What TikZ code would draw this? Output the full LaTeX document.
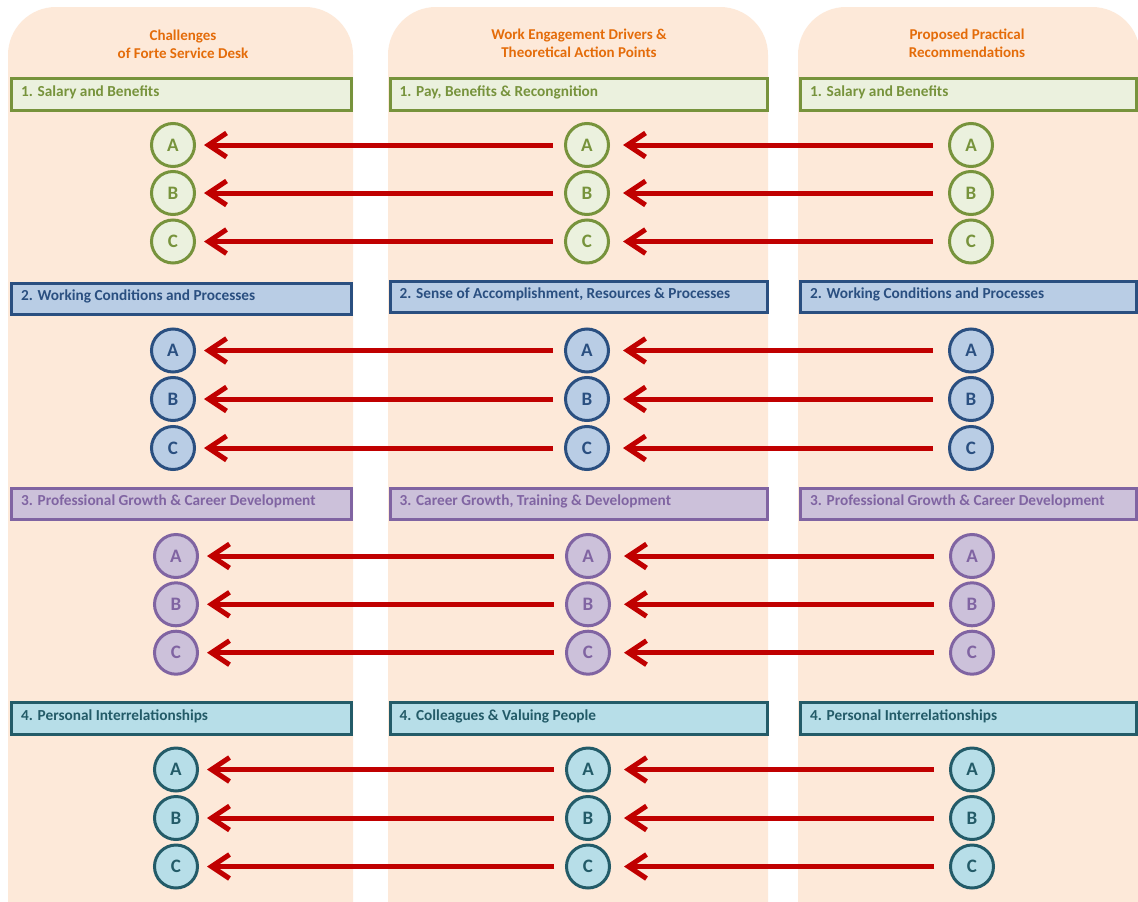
\documentclass[tikz,border=0pt]{standalone}
\usepackage{fontspec}
\setmainfont{Carlito}
\usetikzlibrary{arrows.meta,calc}

\definecolor{peach}{HTML}{FDE9D9}
\definecolor{titleorange}{HTML}{E46C0A}
\definecolor{grnline}{HTML}{77933C}
\definecolor{grnfill}{HTML}{EBF1DE}
\definecolor{bluline}{HTML}{2A4F80}
\definecolor{blufill}{HTML}{B9CDE5}
\definecolor{purline}{HTML}{8064A2}
\definecolor{purfill}{HTML}{CCC1DA}
\definecolor{tealline}{HTML}{235B68}
\definecolor{tealfill}{HTML}{B7DEE8}
\definecolor{arrred}{HTML}{C00000}

\tikzset{
  colbg/.style={fill=peach, rounded corners=48pt},
  coltitle/.style={text=titleorange, font=\bfseries\fontsize{15}{18}\selectfont,
    align=center, inner sep=0pt},
  hdrbox/.style={draw=#1line, fill=#1fill, line width=3pt, inner sep=0pt,
    minimum height=31.5pt},
  hdrtext/.style={text=#1line, font=\bfseries\fontsize{15.3}{17}\selectfont,
    anchor=base west, inner sep=0pt},
  item/.style={circle, draw=#1line, fill=#1fill, line width=3pt,
    minimum size=43pt, inner sep=0pt, text=#1line,
    font=\bfseries\fontsize{19}{20}\selectfont},
  arr/.style={draw=arrred, line width=5pt,
    -{Straight Barb[length=18pt,width=24pt]}},
  arrL/.style={arr, shorten <=11pt, shorten >=8pt},
  arrR/.style={arr, shorten <=15pt, shorten >=13pt},
}

\begin{document}
\begin{tikzpicture}[x=1pt, y=-1pt]
\useasboundingbox (0,0) rectangle (1138,902);
\fill[white] (0,0) rectangle (1138,902);

% three column panels
\fill[colbg] (8,960) -- (8,7) -- (353,7) -- (353,960) -- cycle;
\fill[colbg] (388,960) -- (388,7) -- (768,7) -- (768,960) -- cycle;
\fill[colbg] (798,960) -- (798,7) -- (1140,7) -- (1140,960) -- cycle;

% column titles
\node[coltitle] (tL) at (183,44) {Challenges\\of Forte Service Desk};
\node[coltitle] (tM) at (579,43) {Work Engagement Drivers \&\\Theoretical Action Points};
\node[coltitle] (tR) at (967,43) {Proposed Practical\\Recommendations};

% ---------- group headers ----------
% group 1
\node[hdrbox=grn, minimum width=339.5pt] (h1L) at (181.25,94.25) {};
\node[hdrbox=grn, minimum width=377pt]   (h1M) at (578.5,94.25) {};
\node[hdrbox=grn, minimum width=336pt]   (h1R) at (968.5,94.25) {};
\node[hdrtext=grn] at ($(h1L.north west)+(11,19)$) {1. Salary and Benefits};
\node[hdrtext=grn] at ($(h1M.north west)+(11,19)$) {1. Pay, Benefits \& Recongnition};
\node[hdrtext=grn] at ($(h1R.north west)+(11,19)$) {1. Salary and Benefits};
% group 2
\node[hdrbox=blu, minimum width=339.5pt] (h2L) at (181.25,299) {};
\node[hdrbox=blu, minimum width=377pt]   (h2M) at (578.5,297) {};
\node[hdrbox=blu, minimum width=336pt]   (h2R) at (968.5,297) {};
\node[hdrtext=blu] at ($(h2L.north west)+(11,19)$) {2. Working Conditions and Processes};
\node[hdrtext=blu] at ($(h2M.north west)+(11,19)$) {2. Sense of Accomplishment, Resources \& Processes};
\node[hdrtext=blu] at ($(h2R.north west)+(11,19)$) {2. Working Conditions and Processes};
% group 3
\node[hdrbox=pur, minimum width=339.5pt] (h3L) at (181.25,504) {};
\node[hdrbox=pur, minimum width=377pt]   (h3M) at (578.5,504) {};
\node[hdrbox=pur, minimum width=336pt]   (h3R) at (968.5,504) {};
\node[hdrtext=pur] at ($(h3L.north west)+(11,19)$) {3. Professional Growth \& Career Development};
\node[hdrtext=pur] at ($(h3M.north west)+(11,19)$) {3. Career Growth, Training \& Development};
\node[hdrtext=pur] at ($(h3R.north west)+(11,19)$) {3. Professional Growth \& Career Development};
% group 4
\node[hdrbox=teal, minimum width=339.5pt] (h4L) at (181.25,718.5) {};
\node[hdrbox=teal, minimum width=377pt]   (h4M) at (578.5,718.5) {};
\node[hdrbox=teal, minimum width=336pt]   (h4R) at (968.5,718.5) {};
\node[hdrtext=teal] at ($(h4L.north west)+(11,19)$) {4. Personal Interrelationships};
\node[hdrtext=teal] at ($(h4M.north west)+(11,19)$) {4. Colleagues \& Valuing People};
\node[hdrtext=teal] at ($(h4R.north west)+(11,19)$) {4. Personal Interrelationships};

% ---------- items A/B/C and their arrows ----------
% group / colour set / left x / mid x / right x / row y values
\foreach \g/\c/\xl/\xm/\xr/\ya/\yb/\yc in {
    1/grn/173/587/971/145/193/241.5,
    2/blu/173/587/971/350.5/399/448,
    3/pur/176/588/972/556/604.3/652.7,
    4/teal/176/588/972/769.5/818/866.5}{
  \foreach \k/\yy in {A/\ya, B/\yb, C/\yc}{
    \node[item=\c] (L\g\k) at (\xl,\yy) {\k};
    \node[item=\c] (M\g\k) at (\xm,\yy) {\k};
    \node[item=\c] (R\g\k) at (\xr,\yy) {\k};
    \draw[arrR] (R\g\k) -- (M\g\k);
    \draw[arrL] (M\g\k) -- (L\g\k);
  }
}
\end{tikzpicture}
\end{document}
